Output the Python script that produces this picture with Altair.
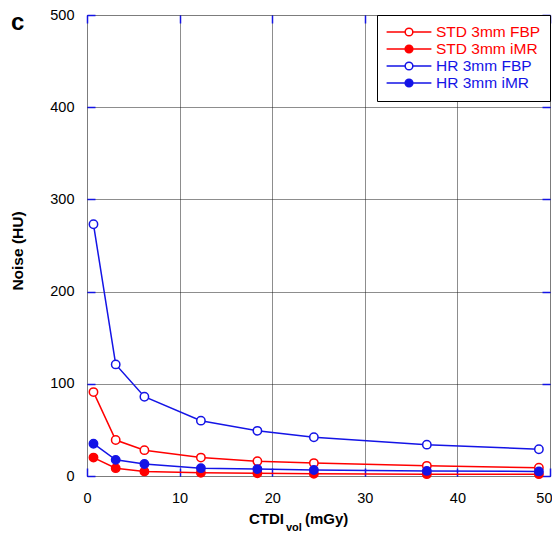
import altair as alt
import pandas as pd

# ---- data ----
ctdi = [0.7, 3.1, 6.2, 12.3, 18.4, 24.5, 36.7, 48.8]
std_fbp = [91, 39, 28, 20, 16, 14, 11, 9]
std_imr = [20, 8.5, 5, 3.5, 3, 2.5, 2, 2]
hr_fbp = [273, 121, 86, 60, 49, 42, 34, 29]
hr_imr = [35, 17.5, 13, 8.5, 7.5, 6.5, 5.5, 5]
series_names = ["STD 3mm FBP", "STD 3mm iMR", "HR 3mm FBP", "HR 3mm iMR"]
x_ticks = [0, 10, 20, 30, 40, 50]
y_ticks = [0, 100, 200, 300, 400, 500]

RED = "#ff0000"
BLUE = "#1414e6"
FONT = "Liberation Sans"
stroke_range = [RED, RED, BLUE, BLUE]
fill_range = ["white", RED, "white", BLUE]

rows = []
for name, vals in zip(series_names, [std_fbp, std_imr, hr_fbp, hr_imr]):
    for xv, yv in zip(ctdi, vals):
        rows.append({"ctdi": xv, "noise": yv, "series": name})
df = pd.DataFrame(rows)

xs = alt.Scale(domain=[0, 50], nice=False, zero=False)
ys = alt.Scale(domain=[0, 500], nice=False, zero=False)
stroke_scale = alt.Scale(domain=series_names, range=stroke_range)
fill_scale = alt.Scale(domain=series_names, range=fill_range)

sym = ("M-3.2,0H-0.55M0.55,0H3.2"
       "M-0.55,0A0.55,0.55,0,1,0,0.55,0A0.55,0.55,0,1,0,-0.55,0Z")

legend = alt.Legend(
    title=None, orient="top-right", offset=0,
    symbolType=sym, symbolSize=196, symbolStrokeWidth=1.5,
    symbolOffset=15, labelOffset=19,
    labelFont=FONT, labelFontSize=15.5, labelLimit=0,
    labelColor=alt.ExprRef("indexof(datum.label,'STD')>=0 ? '#ff0000' : '#1414e6'"),
    strokeColor="black", fillColor="white", padding=9, rowPadding=0,
)

x_axis = alt.Axis(values=x_ticks, title=None, grid=True, gridColor="#1a1a1a",
                  gridDash=[1, 1], gridWidth=1, ticks=False, tickSize=0,
                  domain=False, labelFont=FONT, labelFontSize=14.5,
                  labelColor="black", labelPadding=15.5, labelFlush=False,
                  labelAlign={"condition": {"test": "datum.value == 50",
                                            "value": "right"},
                              "value": "center"},
                  labelOffset={"condition": {"test": "datum.value == 50",
                                             "value": 2},
                               "value": 0})
y_axis = alt.Axis(values=y_ticks, title=None, grid=True, gridColor="#1a1a1a",
                  gridDash=[1, 1], gridWidth=1, ticks=False, tickSize=0,
                  domain=False, labelFont=FONT, labelFontSize=14.5,
                  labelColor="black", labelPadding=13, labelFlush=False)

lines = alt.Chart(df).mark_line(strokeWidth=1.5).encode(
    x=alt.X("ctdi:Q", scale=xs, axis=x_axis),
    y=alt.Y("noise:Q", scale=ys, axis=y_axis),
    stroke=alt.Stroke("series:N", scale=stroke_scale, legend=legend),
)
points = alt.Chart(df).mark_point(shape="circle", size=70, strokeWidth=1.5,
                                  opacity=1).encode(
    x=alt.X("ctdi:Q", scale=xs, axis=None),
    y=alt.Y("noise:Q", scale=ys, axis=None),
    stroke=alt.Stroke("series:N", scale=stroke_scale, legend=legend),
    fill=alt.Fill("series:N", scale=fill_scale, legend=legend),
)


def tick_axis(orient, vals):
    return alt.Axis(orient=orient, values=vals, labels=False, domain=False,
                    grid=False, ticks=True, tickSize=8, tickColor=BLUE,
                    tickWidth=1.5, offset=-8, title=None)


ticks_lb = alt.Chart(df).mark_point(opacity=0).encode(
    x=alt.X("ctdi:Q", scale=xs, axis=tick_axis("bottom", x_ticks)),
    y=alt.Y("noise:Q", scale=ys, axis=tick_axis("left", y_ticks)),
)
ticks_tr = alt.Chart(df).mark_point(opacity=0).encode(
    x=alt.X("ctdi:Q", scale=xs, axis=tick_axis("top", x_ticks)),
    y=alt.Y("noise:Q", scale=ys, axis=tick_axis("right", y_ticks)),
)

one = pd.DataFrame({"k": [0]})
panel = alt.Chart(one).mark_text(text="c", font=FONT, fontSize=24,
                                 fontWeight="bold", align="left",
                                 baseline="alphabetic").encode(
    x=alt.value(-76), y=alt.value(14.5))
ytitle = alt.Chart(one).mark_text(text="Noise (HU)", font=FONT, fontSize=15.5,
                                  fontWeight="bold", angle=270, align="center",
                                  baseline="middle").encode(
    x=alt.value(-69), y=alt.value(236))
xt1 = alt.Chart(one).mark_text(text="CTDI", font=FONT, fontSize=15,
                               fontWeight="bold", align="right",
                               baseline="alphabetic").encode(
    x=alt.value(197), y=alt.value(509))
xt2 = alt.Chart(one).mark_text(text="vol", font=FONT, fontSize=11,
                               fontWeight="bold", align="left",
                               baseline="alphabetic").encode(
    x=alt.value(199), y=alt.value(516))
xt3 = alt.Chart(one).mark_text(text="(mGy)", font=FONT, fontSize=15,
                               fontWeight="bold", align="left",
                               baseline="alphabetic").encode(
    x=alt.value(218), y=alt.value(509))

chart = alt.layer(
    lines, points, ticks_lb, ticks_tr, panel, ytitle, xt1, xt2, xt3
).resolve_axis(
    x="independent", y="independent"
).properties(
    width=463, height=461,
    autosize=alt.AutoSizeParams(type="none"),
    padding={"left": 79, "top": 7, "right": 2, "bottom": 56},
).configure_view(
    stroke=BLUE, strokeWidth=1.5
).configure(background="white")

chart.save("out.html", embed_options={"renderer": "svg", "actions": False})
